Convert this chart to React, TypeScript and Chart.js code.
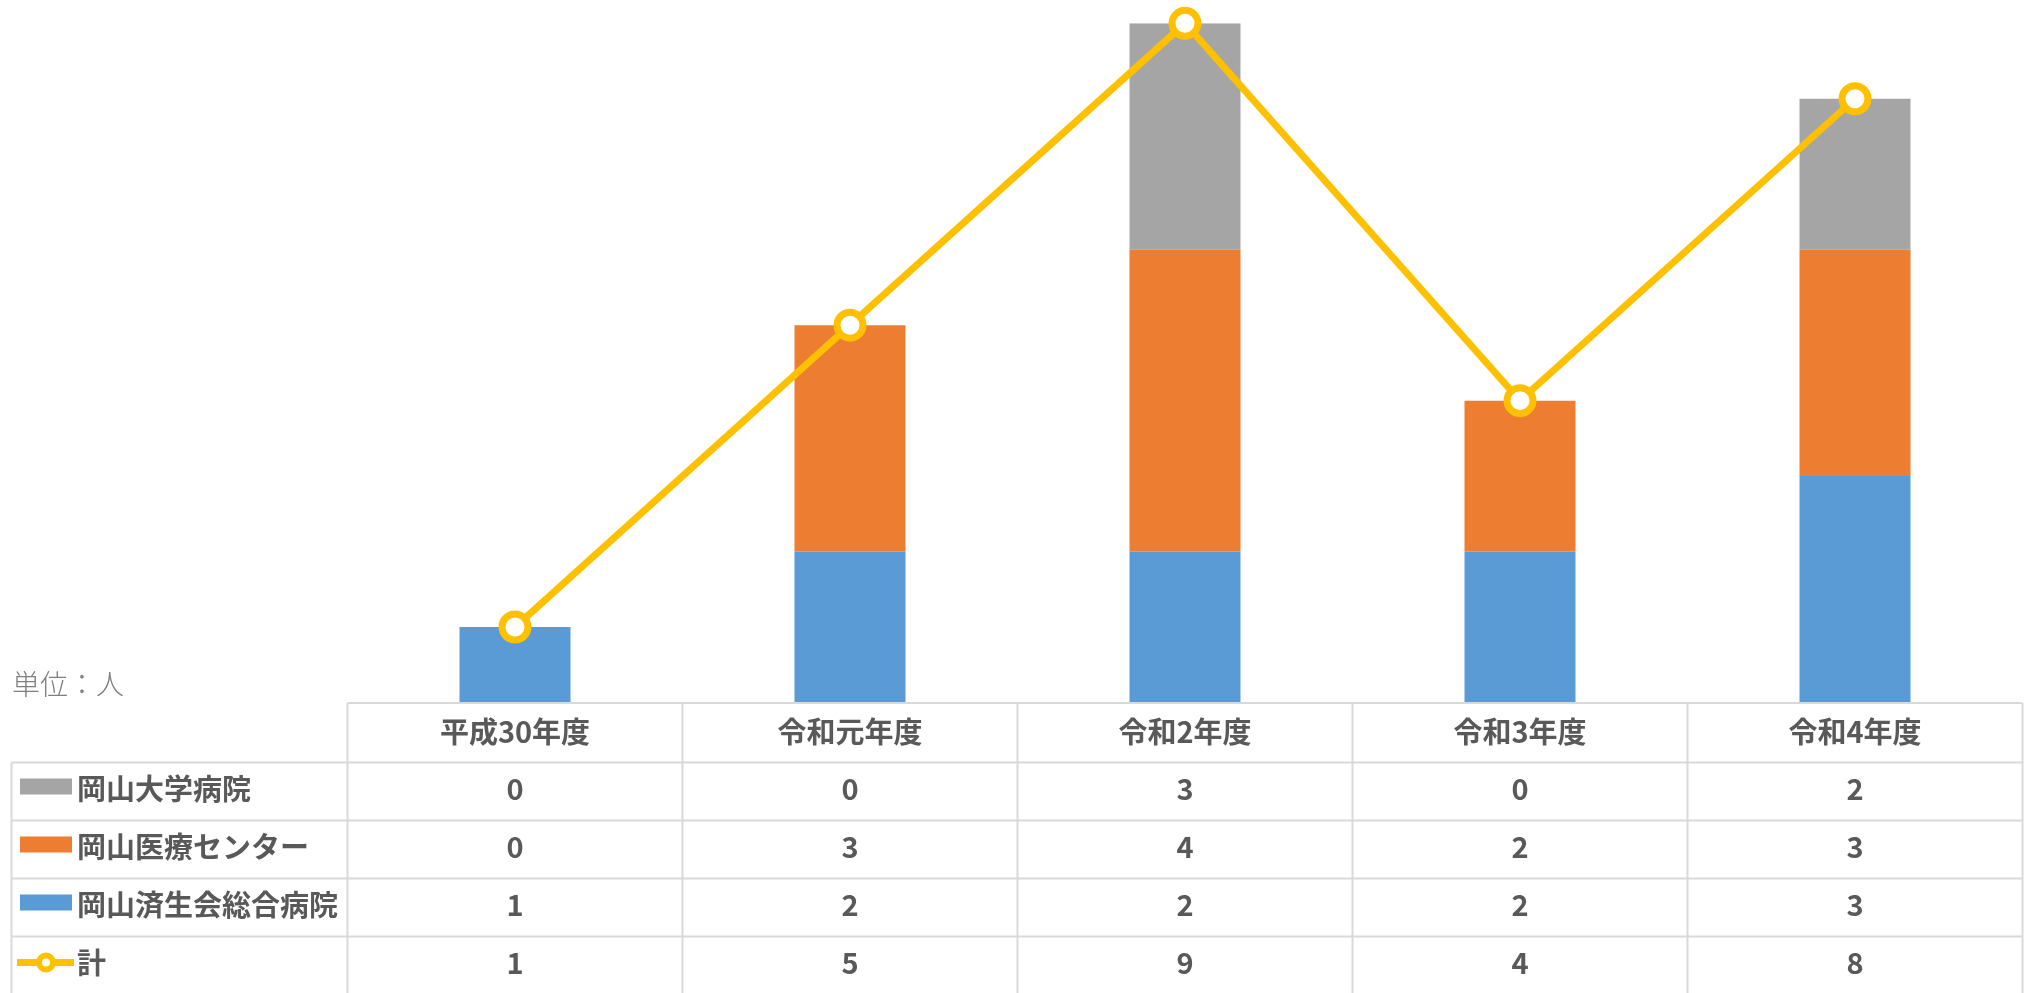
import React, { useEffect, useRef } from "react";
import { Chart, registerables } from "chart.js";

Chart.register(...registerables);

const categories = ["平成30年度", "令和元年度", "令和2年度", "令和3年度", "令和4年度"];
const okayamaUniv = [0, 0, 3, 0, 2];
const okayamaMedical = [0, 3, 4, 2, 3];
const okayamaSaiseikai = [1, 2, 2, 2, 3];
const total = [1, 5, 9, 4, 8];

const seriesNames = ["岡山大学病院", "岡山医療センター", "岡山済生会総合病院", "計"];
const unitLabel = "単位：人";

const COLORS = {
  gray: "#A5A5A5",
  orange: "#ED7D31",
  blue: "#5B9BD5",
  yellow: "#FFC000",
  text: "#595959",
  grid: "#D9D9D9",
};

const FONT = '"Noto Sans CJK JP", "Noto Sans", sans-serif';

const tablePlugin = {
  id: "dataTable",
  afterDraw(chart: any) {
    const ctx = chart.ctx as CanvasRenderingContext2D;
    const xs = chart.scales.x;
    const area = chart.chartArea;
    const n = categories.length;
    const colW = (area.right - area.left) / n;
    const tableTop = area.bottom + 0.5;
    const headerBottom = tableTop + 59.5;
    const rowH = 58;
    const leftX = 11.5;
    const rightX = area.right;
    const bottomY = chart.height + 2;
    const rowTops = [0, 1, 2, 3].map((i) => headerBottom + i * rowH);

    ctx.save();
    // unit label
    ctx.fillStyle = "#7F7F7F";
    ctx.font = `300 28px ${FONT}`;
    ctx.textAlign = "left";
    ctx.textBaseline = "middle";
    ctx.fillText(unitLabel, 12, 684);

    // grid
    ctx.strokeStyle = COLORS.grid;
    ctx.lineWidth = 2;
    ctx.beginPath();
    ctx.moveTo(area.left, tableTop);
    ctx.lineTo(rightX, tableTop);
    rowTops.forEach((y) => {
      ctx.moveTo(leftX, y);
      ctx.lineTo(rightX, y);
    });
    ctx.moveTo(leftX, headerBottom);
    ctx.lineTo(leftX, bottomY);
    for (let k = 0; k <= n; k++) {
      const x = area.left + k * colW;
      ctx.moveTo(x, tableTop);
      ctx.lineTo(x, bottomY);
    }
    ctx.stroke();

    // header
    ctx.fillStyle = COLORS.text;
    ctx.font = `bold 29px ${FONT}`;
    ctx.textAlign = "center";
    ctx.textBaseline = "middle";
    categories.forEach((c, i) => {
      ctx.fillText(c, xs.getPixelForValue(i), (tableTop + headerBottom) / 2 - 1);
    });

    // rows: order gray, orange, blue, line
    const rowDatasets = [2, 1, 0, 3];
    rowDatasets.forEach((di, r) => {
      const ds = chart.data.datasets[di];
      const cy = rowTops[r] + rowH / 2 - 3;
      // key
      if (di === 3) {
        ctx.strokeStyle = COLORS.yellow;
        ctx.lineWidth = 7;
        ctx.beginPath();
        ctx.moveTo(17, cy);
        ctx.lineTo(74, cy);
        ctx.stroke();
        ctx.beginPath();
        ctx.arc(46, cy, 7, 0, Math.PI * 2);
        ctx.fillStyle = "#FFFFFF";
        ctx.fill();
        ctx.lineWidth = 6;
        ctx.stroke();
      } else {
        ctx.fillStyle = ds.backgroundColor;
        ctx.fillRect(20, cy - 10, 52, 16);
      }
      ctx.fillStyle = COLORS.text;
      ctx.font = `bold 29px ${FONT}`;
      ctx.textAlign = "left";
      ctx.fillText(ds.label, 77, cy);
      ctx.textAlign = "center";
      (ds.data as number[]).forEach((v, i) => {
        ctx.fillText(String(v), xs.getPixelForValue(i), cy);
      });
    });
    ctx.restore();
  },
};

export default function App() {
  const ref = useRef<HTMLCanvasElement | null>(null);

  useEffect(() => {
    document.body.style.margin = "0";
    const canvas = ref.current!;
    const barPct = 111 / 335;
    const chart = new Chart(canvas, {
      type: "bar",
      data: {
        labels: categories,
        datasets: [
          {
            type: "bar",
            label: seriesNames[2],
            data: okayamaSaiseikai,
            backgroundColor: COLORS.blue,
            stack: "bars",
            order: 1,
            barPercentage: barPct,
            categoryPercentage: 1,
          },
          {
            type: "bar",
            label: seriesNames[1],
            data: okayamaMedical,
            backgroundColor: COLORS.orange,
            stack: "bars",
            order: 1,
            barPercentage: barPct,
            categoryPercentage: 1,
          },
          {
            type: "bar",
            label: seriesNames[0],
            data: okayamaUniv,
            backgroundColor: COLORS.gray,
            stack: "bars",
            order: 1,
            barPercentage: barPct,
            categoryPercentage: 1,
          },
          {
            type: "line",
            label: seriesNames[3],
            data: total,
            borderColor: COLORS.yellow,
            borderWidth: 7,
            pointRadius: 13,
            pointHoverRadius: 13,
            pointBorderWidth: 7,
            pointBackgroundColor: "#FFFFFF",
            pointBorderColor: COLORS.yellow,
            stack: "total",
            order: 0,
            clip: false,
            tension: 0,
          } as any,
        ],
      },
      options: {
        responsive: false,
        devicePixelRatio: 1,
        animation: false,
        layout: {
          autoPadding: false,
          padding: { left: 347.5, right: 8.5, top: 23.3, bottom: 290.5 },
        },
        scales: {
          x: { display: false, stacked: true },
          y: { display: false, stacked: true, min: 0, max: 9 },
        },
        plugins: {
          legend: { display: false },
          tooltip: { enabled: false },
        },
      } as any,
      plugins: [tablePlugin],
    });
    return () => chart.destroy();
  }, []);

  return (
    <div style={{ position: "absolute", left: 0, top: 0, width: 2031, height: 993, background: "#fff" }}>
      <canvas ref={ref} width={2031} height={993} style={{ width: 2031, height: 993, display: "block" }} />
    </div>
  );
}
